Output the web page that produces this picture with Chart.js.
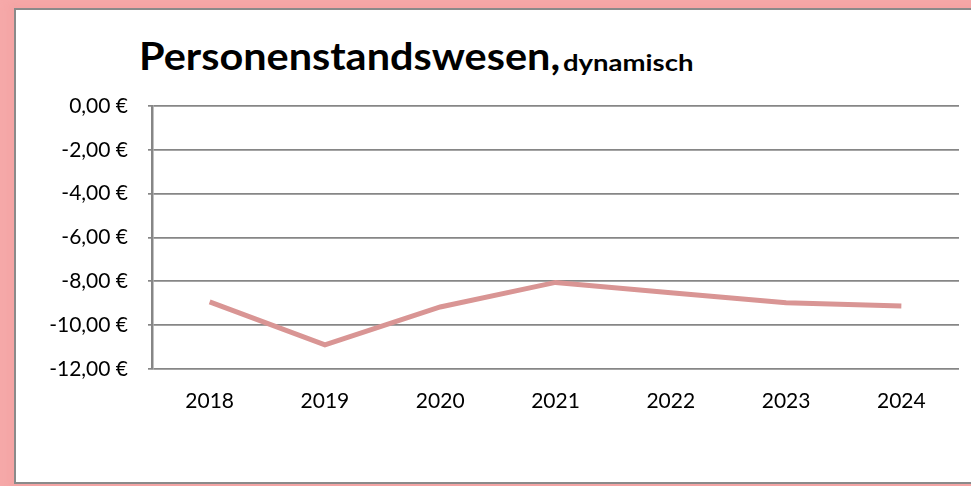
<!DOCTYPE html>
<html>
<head>
<meta charset="utf-8">
<script src="https://cdn.jsdelivr.net/npm/chart.js@4/dist/chart.umd.min.js"></script>
<style>
    body { margin: 0; background: #f6a9a9; width: 971px; height: 486px; overflow: hidden; }
    .frame {
        position: absolute; left: 14px; top: 8px; width: 1000px; height: 472px;
        border: 2px solid #8a8a8a; background: #fff;
        box-shadow: 0 0 8px 6px #f4a4a4;
    }
    .title {
        position: absolute; white-space: nowrap; transform-origin: left bottom;
        font-family: Lato, "Open Sans", sans-serif; font-weight: bold; color: #000;
    }
    .title.big { left: 123px; top: 22px; font-size: 38px; transform: scaleX(1.09); }
    .title.small { left: 547px; top: 39px; font-size: 22px; transform: scaleX(1.25); }
    canvas { position: absolute; left: 0; top: 0; }
</style>
</head>
<body>
<div class="frame">
    <span class="title big">Personenstandswesen,</span><span class="title small">dynamisch</span>
    <canvas id="chart" width="955" height="472"></canvas>
</div>
<script>
// values
const years = ['2018', '2019', '2020', '2021', '2022', '2023', '2024'];
const costs = [-8.94, -10.9, -9.17, -8.05, -8.52, -8.98, -9.12];
const yTicks = [0, -2, -4, -6, -8, -10, -12];

const axisGray = '#868686';
const lineColor = '#d99594';

const euro = v => v.toFixed(2).replace('.', ',') + ' €';

const ctx = document.getElementById('chart').getContext('2d');
const chart = new Chart(ctx, {
    type: 'line',
    data: {
        labels: years,
        datasets: [{
            data: costs,
            borderColor: lineColor,
            borderWidth: 5,
            pointRadius: 0,
            tension: 0,
            fill: false
        }]
    },
    options: {
        responsive: false,
        animation: false,
        layout: { padding: { top: 96, right: 12, left: 0, bottom: 0 } },
        plugins: {
            legend: { display: false },
            tooltip: { enabled: false }
        },
        scales: {
            x: {
                offset: true,
                grid: { display: false },
                border: { display: false },
                ticks: { color: '#000', padding: 12, font: { family: 'Lato', size: 21 } },
                afterFit: scale => { scale.height = 113; }
            },
            y: {
                min: -12,
                max: 0,
                afterBuildTicks: scale => { scale.ticks = yTicks.map(v => ({ value: v })); },
                grid: { color: axisGray, lineWidth: 1.7, tickLength: 4 },
                border: { color: axisGray, width: 2.5 },
                ticks: {
                    color: '#000', padding: 20,
                    font: { family: 'Lato', size: 21 },
                    callback: v => euro(v)
                },
                afterFit: scale => { scale.width = 136; }
            }
        }
    }
});
</script>
</body>
</html>
